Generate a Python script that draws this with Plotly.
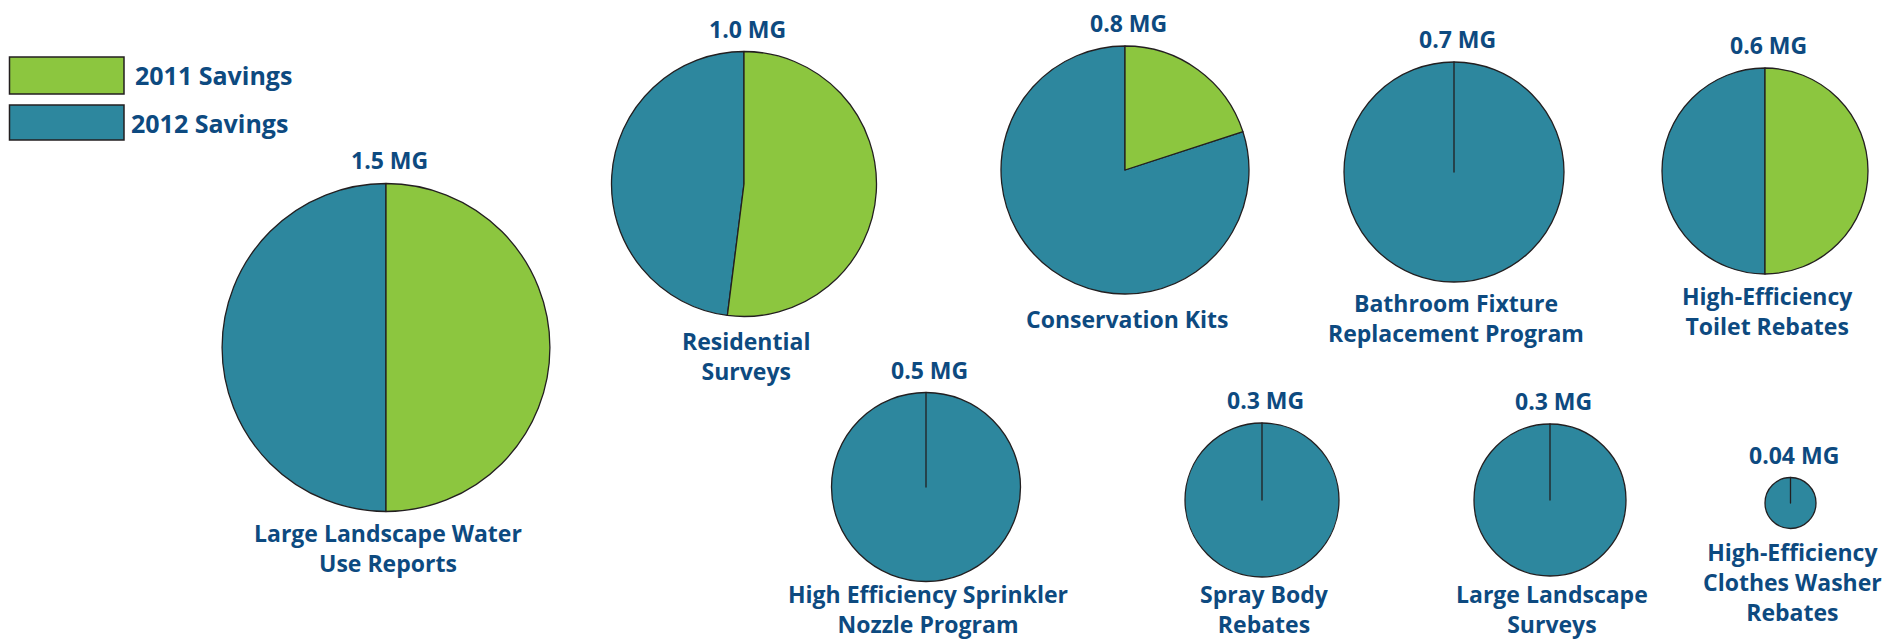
import plotly.graph_objects as go

# ---------------- data ----------------
programs = [
    "Large Landscape Water<br>Use Reports",
    "Residential<br>Surveys",
    "Conservation Kits",
    "Bathroom Fixture<br>Replacement Program",
    "High-Efficiency<br>Toilet Rebates",
    "High Efficiency Sprinkler<br>Nozzle Program",
    "Spray Body<br>Rebates",
    "Large Landscape<br>Surveys",
    "High-Efficiency<br>Clothes Washer<br>Rebates",
]
savings_2011 = [0.75, 0.52, 0.16, 0.0, 0.30, 0.0, 0.0, 0.0, 0.0]
savings_2012 = [0.75, 0.48, 0.64, 0.70, 0.30, 0.50, 0.30, 0.30, 0.04]
series_names = ["2011 Savings", "2012 Savings"]
unit = "MG"

# ---------------- layout (pixel geometry of each pie) ----------------
W, H = 1901, 640
centers = [(386, 347.5), (744, 184), (1125, 170), (1454, 172), (1765, 171),
           (926, 487), (1262, 500), (1550, 500), (1790.5, 503)]
radii = [164, 132.5, 124, 110, 103, 94.5, 77, 76, 25.5]
label_first_line_y = [533, 341, 319, 303, 296, 594, 594, 594, 553]
line_gap = 29

GREEN = "#8CC63F"
TEAL = "#2D879E"
EDGE = "#231F20"
TXT = "#0D4A80"
FONT = "Open Sans"
FS = 23
FS_LEG = 25


def px_x(x):
    return x / W


def px_y(y):
    return 1 - y / H


fig = go.Figure()
annotations = []
for i, name in enumerate(programs):
    cx, cy = centers[i]
    r = radii[i]
    total = savings_2011[i] + savings_2012[i]
    # 2012 slice drawn first, ending at 12 o'clock; 2011 slice starts at 12 o'clock (clockwise)
    rot = 360.0 * savings_2011[i] / total
    fig.add_trace(go.Pie(
        labels=[series_names[1], series_names[0]],
        values=[savings_2012[i], savings_2011[i]],
        sort=False,
        direction="clockwise",
        rotation=rot,
        textinfo="none",
        marker=dict(colors=[TEAL, GREEN], line=dict(color=EDGE, width=1.3)),
        domain=dict(x=[px_x(cx - r), px_x(cx + r)], y=[px_y(cy + r), px_y(cy - r)]),
        showlegend=False,
        hovertemplate="%{label}: %{value} " + unit + "<extra></extra>",
        name=name.replace("<br>", " "),
    ))
    tot_txt = (f"{total:.1f}" if total >= 0.1 else f"{total:.2f}") + " " + unit
    annotations.append(dict(
        x=px_x(cx + 3), y=px_y(cy - r - 23), xref="paper", yref="paper",
        text=f"<b>{tot_txt}</b>", showarrow=False, xanchor="center", yanchor="middle",
        font=dict(family=FONT, size=FS, color=TXT),
    ))
    nlines = name.count("<br>") + 1
    ly = label_first_line_y[i] + (nlines - 1) * line_gap / 2
    annotations.append(dict(
        x=px_x(cx + 2), y=px_y(ly), xref="paper", yref="paper",
        text=f"<b>{name}</b>", showarrow=False, xanchor="center", yanchor="middle",
        font=dict(family=FONT, size=FS, color=TXT),
    ))

# ---------------- custom legend ----------------
shapes = []
legend_boxes = [(9.5, 57, 124, 94), (9.5, 105, 124, 140)]
legend_colors = [GREEN, TEAL]
legend_text_x = [133, 129]
for (x0, y0, x1, y1), col, tx, nm in zip(legend_boxes, legend_colors, legend_text_x, series_names):
    shapes.append(dict(type="rect", xref="paper", yref="paper",
                       x0=px_x(x0), x1=px_x(x1), y0=px_y(y1), y1=px_y(y0),
                       fillcolor=col, line=dict(color=EDGE, width=1.5)))
    annotations.append(dict(
        x=px_x(tx), y=px_y((y0 + y1) / 2), xref="paper", yref="paper",
        text=f"<b>{nm}</b>", showarrow=False, xanchor="left", yanchor="middle",
        font=dict(family=FONT, size=FS_LEG, color=TXT),
    ))

fig.update_layout(
    width=W, height=H,
    margin=dict(l=0, r=0, t=0, b=0),
    paper_bgcolor="white", plot_bgcolor="white",
    annotations=annotations, shapes=shapes,
)

fig.write_html("out.html", config={"displayModeBar": False},
               post_script="document.body.style.margin='0';document.body.style.overflow='hidden';")
